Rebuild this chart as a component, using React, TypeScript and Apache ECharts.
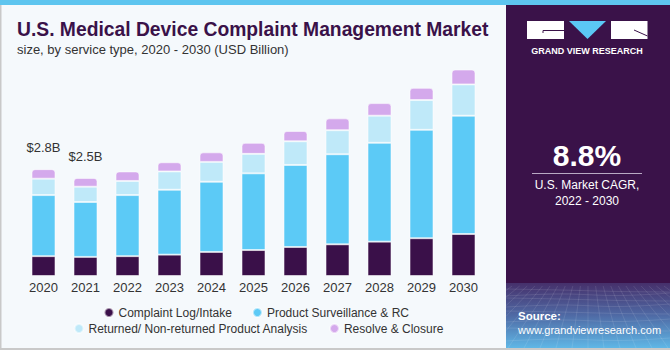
import React, { useEffect, useRef } from "react";
import * as echarts from "echarts";

const years = ["2020", "2021", "2022", "2023", "2024", "2025", "2026", "2027", "2028", "2029", "2030"];
const complaintLog = [0.52, 0.5, 0.52, 0.56, 0.63, 0.68, 0.76, 0.83, 0.9, 0.99, 1.1];
const productSurveillance = [1.6, 1.44, 1.6, 1.7, 1.84, 2.01, 2.15, 2.36, 2.59, 2.84, 3.1];
const returnedAnalysis = [0.43, 0.4, 0.37, 0.48, 0.52, 0.51, 0.62, 0.63, 0.71, 0.78, 0.82];
const resolveClosure = [0.25, 0.23, 0.25, 0.24, 0.25, 0.29, 0.27, 0.31, 0.33, 0.32, 0.39];
const totalLabels = ["$2.8B", "$2.5B", "", "", "", "", "", "", "", "", ""];

const seriesNames = [
  "Complaint Log/Intake",
  "Product Surveillance & RC",
  "Returned/ Non-returned Product Analysis",
  "Resolve & Closure",
];
const colors = ["#3a1049", "#5ccaf6", "#bfe9f9", "#d4a9ec"];

function textureLines() {
  const out: any[] = [];
  const top = 286;
  const bottom = 348;
  const vx = 588;
  const vy = 230;
  for (let k = -12; k <= 12; k++) {
    const xb = vx + k * 16;
    const t = (top - vy) / (bottom - vy);
    const xt = vx + k * 16 * t;
    let x1 = xt, y1 = top, x2 = xb, y2 = bottom;
    if (x2 < 506) { const f = (506 - x1) / (x2 - x1); x2 = 506; y2 = y1 + f * (bottom - top); }
    if (x2 > 670) { const f = (670 - x1) / (x2 - x1); x2 = 670; y2 = y1 + f * (bottom - top); }
    if (x1 < 506 || x1 > 670) continue;
    out.push({ type: "line", silent: true, shape: { x1, y1, x2, y2 }, style: { stroke: "rgba(255,255,255,0.13)", lineWidth: 0.8 } });
  }
  const ys = [290, 294, 299, 305, 312, 320, 329, 339];
  ys.forEach((y, i) => {
    out.push({
      type: "polyline",
      silent: true,
      shape: { points: [[506, y + (i % 2 ? 2 : -1)], [560, y], [620, y + 1.5], [670, y - (i % 2 ? 1 : -2)]], smooth: 0.4 },
      style: { stroke: "rgba(255,255,255,0.13)", lineWidth: 0.8, fill: "none" },
    });
  });
  return out;
}

export default function App() {
  const ref = useRef<HTMLDivElement>(null);
  useEffect(() => {
    if (!ref.current) return;
    const chart = echarts.init(ref.current, null, { renderer: "svg" });
    const values = [complaintLog, productSurveillance, returnedAnalysis, resolveClosure];
    const series = values.map((vals, si) => ({
      name: seriesNames[si],
      type: "bar",
      stack: "total",
      barWidth: 24,
      itemStyle: {
        color: colors[si],
        borderColor: "rgba(255,255,255,0.55)",
        borderWidth: 1,
        borderRadius: si === 3 ? [3, 3, 0, 0] : 0,
      },
      data:
        si === 3
          ? vals.map((v, i) => ({
              value: v,
              label: {
                show: totalLabels[i] !== "",
                position: "top",
                distance: 15,
                formatter: totalLabels[i],
                fontSize: 13,
                color: "#333",
                fontFamily: "Liberation Sans",
              },
            }))
          : vals,
    }));

    chart.setOption({
      animation: false,
      backgroundColor: "#f5f9fc",
      color: colors,
      grid: { left: 22.5, right: 185.5, top: 47, bottom: 74 },
      xAxis: {
        type: "category",
        data: years,
        axisLine: { show: false },
        axisTick: { show: false },
        axisLabel: { fontSize: 13, color: "#333", margin: 5, fontFamily: "Liberation Sans" },
      },
      yAxis: {
        type: "value",
        min: 0,
        max: 6,
        show: false,
        splitLine: { show: false },
      },
      legend: [
        {
          data: [seriesNames[0], seriesNames[1]],
          left: 103.5,
          top: 306.5,
          padding: 0,
          icon: "circle",
          itemWidth: 9,
          itemHeight: 9,
          itemGap: 20,
          textStyle: { fontSize: 12, color: "#333", fontFamily: "Liberation Sans" },
        },
        {
          data: [seriesNames[2], seriesNames[3]],
          left: 73.5,
          top: 322.5,
          padding: 0,
          icon: "circle",
          itemWidth: 9,
          itemHeight: 9,
          itemGap: 21,
          textStyle: { fontSize: 12, color: "#333", fontFamily: "Liberation Sans" },
        },
      ],
      graphic: [
        { type: "rect", shape: { x: 0, y: 0, width: 670, height: 5 }, style: { fill: "#5ec5ef" }, silent: true },
        { type: "rect", shape: { x: 0, y: 5, width: 1.5, height: 345 }, style: { fill: "#c9c9c9" }, silent: true },
        { type: "rect", shape: { x: 0, y: 348, width: 670, height: 2 }, style: { fill: "#c9c9c9" }, silent: true },
        {
          type: "text",
          left: 17,
          top: 20,
          style: {
            text: "U.S. Medical Device Complaint Management Market",
            fontSize: 19.3,
            fontWeight: "bold",
            fill: "#3a1249",
            fontFamily: "Liberation Sans",
          },
        },
        {
          type: "text",
          left: 17,
          top: 43,
          style: {
            text: "size, by service type, 2020 - 2030 (USD Billion)",
            fontSize: 13,
            fill: "#333",
            fontFamily: "Liberation Sans",
          },
        },
        // right panel
        { type: "rect", shape: { x: 506, y: 5, width: 164, height: 343 }, style: { fill: "#3a1249" }, silent: true },
        {
          type: "rect",
          shape: { x: 506, y: 283, width: 164, height: 65 },
          style: {
            fill: new echarts.graphic.LinearGradient(0, 0, 0, 1, [
              { offset: 0, color: "#46306b" },
              { offset: 0.5, color: "#4f6aa5" },
              { offset: 1, color: "#5fb7e6" },
            ]),
          },
          silent: true,
        },
        ...textureLines(),
        // logo
        { type: "rect", shape: { x: 527, y: 21, width: 37, height: 18 }, style: { fill: "#ffffff" }, silent: true },
        { type: "polyline", shape: { points: [[543, 33], [543, 30.5], [564, 30.5]] }, style: { stroke: "#3a1249", lineWidth: 1, fill: "none" }, silent: true },
        { type: "polygon", shape: { points: [[569, 21], [606, 21], [587.5, 39]] }, style: { fill: "#5bc8f5" }, silent: true },
        { type: "rect", shape: { x: 611, y: 21, width: 36.5, height: 18 }, style: { fill: "#ffffff" }, silent: true },
        { type: "line", shape: { x1: 634, y1: 30, x2: 647.5, y2: 36 }, style: { stroke: "#3a1249", lineWidth: 1 }, silent: true },
        {
          type: "text",
          x: 587,
          y: 51,
          style: {
            text: "GRAND VIEW RESEARCH",
            fontSize: 9,
            fontWeight: "bold",
            fill: "#ffffff",
            align: "center",
            verticalAlign: "middle",
            fontFamily: "Liberation Sans",
          },
        },
        {
          type: "text",
          x: 587,
          y: 155,
          style: {
            text: "8.8%",
            fontSize: 30,
            fontWeight: "bold",
            fill: "#ffffff",
            align: "center",
            verticalAlign: "middle",
            fontFamily: "Liberation Sans",
          },
        },
        { type: "line", shape: { x1: 532, y1: 173.5, x2: 642, y2: 173.5 }, style: { stroke: "#b9a9c4", lineWidth: 1 }, silent: true },
        {
          type: "text",
          x: 587,
          y: 185,
          style: {
            text: "U.S. Market CAGR,",
            fontSize: 12,
            fill: "#ffffff",
            align: "center",
            verticalAlign: "middle",
            fontFamily: "Liberation Sans",
          },
        },
        {
          type: "text",
          x: 587,
          y: 201,
          style: {
            text: "2022 - 2030",
            fontSize: 12,
            fill: "#ffffff",
            align: "center",
            verticalAlign: "middle",
            fontFamily: "Liberation Sans",
          },
        },
        {
          type: "text",
          x: 518,
          y: 316,
          style: {
            text: "Source:",
            fontSize: 11.5,
            fontWeight: "bold",
            fill: "#ffffff",
            verticalAlign: "middle",
            fontFamily: "Liberation Sans",
          },
        },
        {
          type: "text",
          x: 518,
          y: 330,
          style: {
            text: "www.grandviewresearch.com",
            fontSize: 11,
            fill: "#ffffff",
            verticalAlign: "middle",
            fontFamily: "Liberation Sans",
          },
        },
      ],
      series,
    });
    return () => chart.dispose();
  }, []);
  return (
    <div
      ref={ref}
      style={{ position: "fixed", left: 0, top: 0, width: 670, height: 350 }}
    />
  );
}
